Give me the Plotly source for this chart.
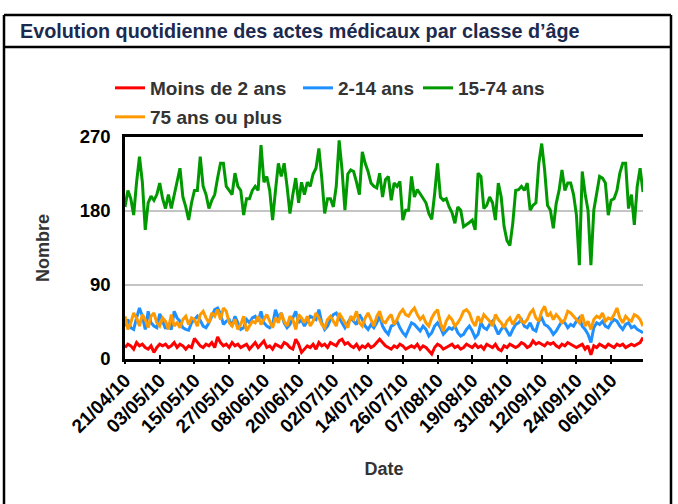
import pandas as pd
import plotly.graph_objects as go

# ---------------- data ----------------
start_date = "2010-04-21"
n_days = 180
dates = pd.date_range(start_date, periods=n_days, freq="D")

series_names = ["Moins de 2 ans", "2-14 ans", "15-74 ans", "75 ans ou plus"]
series_colors = ["#ff0000", "#1e90ff", "#009900", "#ff9900"]

moins_2 = [
    14, 18, 16, 12, 20, 16, 18,
    14, 12, 16, 8, 14, 18, 16,
    18, 14, 16, 20, 14, 18, 16,
    12, 16, 14, 25, 20, 16, 14,
    18, 16, 20, 14, 27, 20, 16,
    18, 14, 20, 16, 18, 14, 16,
    18, 12, 16, 20, 14, 18, 22,
    14, 16, 12, 18, 16, 14, 20,
    18, 14, 12, 24, 18, 8, 12,
    16, 14, 18, 12, 20, 16, 18,
    14, 20, 18, 16, 22, 24, 18,
    20, 16, 14, 18, 12, 16, 14,
    18, 14, 16, 20, 24, 20, 16,
    14, 12, 16, 14, 18, 16, 12,
    14, 16, 14, 18, 12, 16, 14,
    10, 6, 14, 18, 16, 12, 14,
    16, 18, 14, 16, 12, 14, 18,
    16, 14, 18, 14, 16, 12, 18,
    16, 14, 18, 12, 10, 16, 14,
    18, 16, 14, 16, 20, 18, 14,
    16, 22, 18, 20, 18, 16, 20,
    18, 20, 16, 14, 18, 16, 20,
    18, 16, 14, 16, 18, 12, 16,
    5, 16, 14, 18, 16, 14, 18,
    16, 14, 18, 16, 18, 14, 16,
    18, 16, 18, 20, 26,
]

ans_2_14 = [
    40, 48, 38, 36, 50, 62, 52,
    36, 58, 44, 40, 38, 55, 46,
    37, 42, 36, 58, 50, 46, 38,
    36, 35, 44, 48, 52, 47, 40,
    38, 44, 52, 60, 62, 55, 42,
    46, 48, 40, 52, 45, 36, 38,
    48, 44, 50, 52, 46, 58, 44,
    40, 38, 42, 60, 50, 56, 44,
    38, 42, 50, 58, 44, 48, 40,
    46, 52, 50, 48, 60, 44, 36,
    40, 48, 54, 56, 50, 44, 38,
    44, 50, 46, 42, 54, 48, 40,
    36, 42, 38, 44, 52, 40, 34,
    30, 40, 42, 46, 38, 32, 28,
    36, 44, 42, 38, 34, 40, 36,
    28, 32, 40, 44, 38, 30, 34,
    38, 36, 40, 32, 28, 30, 36,
    40, 34, 26, 30, 44, 38, 36,
    42, 46, 38, 30, 36, 40, 34,
    28, 36, 42, 44, 48, 40, 38,
    44, 36, 34, 46, 50, 42, 40,
    36, 30, 34, 40, 46, 44, 38,
    42, 40, 46, 50, 40, 36, 30,
    20, 38, 44, 42, 46, 40, 38,
    44, 48, 46, 40, 36, 42, 44,
    38, 40, 36, 34, 32,
]

ans_15_74 = [
    185, 205, 195, 175, 215, 246, 215,
    157, 190, 198, 193, 200, 214, 195,
    183, 200, 183, 200, 218, 232, 197,
    185, 169, 190, 205, 205, 246, 210,
    200, 183, 193, 200, 220, 238, 238,
    210, 205, 200, 226, 210, 205, 175,
    195, 195, 205, 210, 205, 260, 215,
    222, 205, 169, 205, 238, 222, 238,
    210, 177, 200, 220, 190, 215, 200,
    215, 210, 225, 232, 256, 220, 177,
    195, 195, 185, 210, 266, 230, 181,
    225, 230, 228, 215, 200, 252, 238,
    228, 214, 210, 208, 226, 197, 218,
    222, 193, 214, 210, 216, 169, 181,
    181, 222, 197, 206, 201, 195, 190,
    177, 170, 201, 238, 197, 193, 195,
    185, 178, 165, 185, 181, 161, 163,
    166, 169, 157, 226, 222, 183, 187,
    197, 190, 169, 214, 197, 161, 144,
    138, 165, 205, 206, 210, 205, 214,
    181, 187, 190, 238, 262, 230, 187,
    181, 159, 189, 205, 230, 205, 214,
    214, 200, 175, 114, 228, 201, 181,
    114, 181, 200, 222, 220, 214, 175,
    193, 195, 205, 226, 238, 238, 183,
    200, 163, 210, 232, 203,
]

ans_75_plus = [
    52, 36, 44, 56, 50, 40, 54,
    48, 38, 52, 56, 44, 40, 50,
    46, 36, 54, 40, 44, 38, 48,
    52, 42, 50, 48, 40, 54, 58,
    50, 44, 56, 52, 60, 48, 62,
    58, 44, 40, 48, 36, 42, 52,
    34, 40, 46, 44, 52, 42, 48,
    54, 46, 38, 50, 44, 56, 46,
    40, 52, 48, 36, 54, 50, 44,
    52, 40, 46, 56, 50, 42, 38,
    48, 52, 46, 40, 56, 50, 44,
    38, 52, 48, 58, 44, 40, 50,
    56, 48, 40, 52, 58, 46, 44,
    50, 54, 42, 48, 56, 60, 54,
    52, 58, 62, 54, 48, 52, 44,
    40, 50, 56, 60, 44, 34, 46,
    52, 48, 40, 44, 50, 58, 60,
    56, 46, 40, 52, 44, 54, 50,
    46, 40, 54, 48, 44, 38, 46,
    50, 42, 48, 54, 46, 44, 48,
    56, 60, 50, 46, 58, 64, 52,
    56, 48, 54, 50, 44, 48, 58,
    56, 52, 48, 44, 54, 40, 46,
    36, 48, 52, 50, 56, 46, 50,
    48, 54, 62, 50, 44, 52, 48,
    46, 54, 52, 48, 40,
]

x_tick_dates = ["2010-04-21", "2010-05-03", "2010-05-15", "2010-05-27", "2010-06-08",
                "2010-06-20", "2010-07-02", "2010-07-14", "2010-07-26", "2010-08-07",
                "2010-08-19", "2010-08-31", "2010-09-12", "2010-09-24", "2010-10-06"]
x_tick_labels = ["21/04/10", "03/05/10", "15/05/10", "27/05/10", "08/06/10",
                 "20/06/10", "02/07/10", "14/07/10", "26/07/10", "07/08/10",
                 "19/08/10", "31/08/10", "12/09/10", "24/09/10", "06/10/10"]
y_ticks = [0, 90, 180, 270]

title_text = "Evolution quotidienne des actes médicaux par classe d’âge"

# ---------------- layout geometry ----------------
W, H = 678, 504
PL, PR, PT, PB = 125, 643, 137, 359  # plot area in pixels


def px_x(X):
    return (X - PL) / (PR - PL)


def px_y(Y):
    return (PB - Y) / (PB - PT)


FONT = "Liberation Sans, Arial, Helvetica, sans-serif"

# legend slot for each series (text start x, row centre y) in pixels
legend_slots = [(151, 88), (339, 88), (459, 88), (151, 117)]
legend_ids = ["legend", "legend2", "legend3", "legend4"]

fig = go.Figure()
values = [moins_2, ans_2_14, ans_15_74, ans_75_plus]
for name, col, vals, lid in zip(series_names, series_colors, values, legend_ids):
    fig.add_trace(go.Scatter(x=dates, y=vals, mode="lines", name=name, legend=lid,
                             line=dict(color=col, width=3)))

legend_font = dict(family=FONT, size=19, color="#333333", weight="bold")
legends = {}
for lid, (tx, ty) in zip(legend_ids, legend_slots):
    legends[lid] = dict(orientation="h", xref="paper", yref="paper",
                        x=px_x(tx - 41), xanchor="left", y=px_y(ty), yanchor="middle",
                        font=legend_font, bgcolor="rgba(0,0,0,0)", borderwidth=0)

border = dict(color="#000000", width=2.5)
TOP, SEP, LEFT, RIGHT = 15, 47, 4, 671
shapes = [
    dict(type="line", xref="paper", yref="paper", x0=px_x(LEFT), x1=px_x(RIGHT), y0=px_y(TOP), y1=px_y(TOP), line=border),
    dict(type="line", xref="paper", yref="paper", x0=px_x(LEFT), x1=px_x(RIGHT), y0=px_y(SEP), y1=px_y(SEP), line=border),
    dict(type="line", xref="paper", yref="paper", x0=px_x(LEFT), x1=px_x(LEFT), y0=px_y(TOP), y1=px_y(510), line=border),
    dict(type="line", xref="paper", yref="paper", x0=px_x(RIGHT), x1=px_x(RIGHT), y0=px_y(TOP), y1=px_y(510), line=border),
]

fig.update_layout(
    width=W, height=H,
    margin=dict(l=PL, r=W - PR, t=PT, b=H - PB, autoexpand=False),
    paper_bgcolor="white", plot_bgcolor="white",
    font=dict(family=FONT, size=15, color="#000000"),
    title=dict(text=title_text, xref="container", yref="container",
               x=20 / W, xanchor="left", y=1 - 31 / H, yanchor="middle",
               font=dict(family=FONT, size=19.8, color="#1b2a4e", weight="bold")),
    showlegend=True,
    shapes=shapes,
    **legends,
)

fig.update_xaxes(
    type="date", range=[dates[0], dates[-1]],
    tickmode="array", tickvals=x_tick_dates, ticktext=x_tick_labels,
    tickangle=-45, tickfont=dict(family=FONT, size=19, color="#000000", weight="bold"),
    ticks="inside", ticklen=4, tickwidth=2, tickcolor="#000000",
    showline=True, linecolor="#000000", linewidth=2.5, mirror=True,
    showgrid=False, zeroline=False, automargin=False,
    title=dict(text="Date", standoff=27,
               font=dict(family=FONT, size=18, color="#333333", weight="bold")),
)
# companion axis drawing the outer half of the crossing tick marks
fig.update_layout(xaxis2=dict(
    type="date", overlaying="x", anchor="y", side="bottom", matches="x",
    range=[dates[0], dates[-1]], tickmode="array", tickvals=x_tick_dates,
    showticklabels=False, ticks="outside", ticklen=4, tickwidth=2, tickcolor="#000000",
    showline=False, showgrid=False, zeroline=False, automargin=False,
))
fig.add_trace(go.Scatter(x=[dates[0]], y=[None], xaxis="x2", yaxis="y",
                         showlegend=False, hoverinfo="skip", mode="lines"))

fig.update_yaxes(
    range=[0, 270], tickmode="array", tickvals=y_ticks,
    tickfont=dict(family=FONT, size=18.5, color="#000000", weight="bold"),
    ticks="", ticklabelstandoff=8,
    showline=True, linecolor="#000000", linewidth=2.5, mirror=False,
    showgrid=True, gridcolor="#c4c4c4", gridwidth=2, zeroline=False, automargin=False,
    title=dict(text="Nombre", standoff=26,
               font=dict(family=FONT, size=18, color="#333333", weight="bold")),
)

fig.write_html("out.html", config={"displayModeBar": False},
               post_script="document.body.style.margin='0px';")
